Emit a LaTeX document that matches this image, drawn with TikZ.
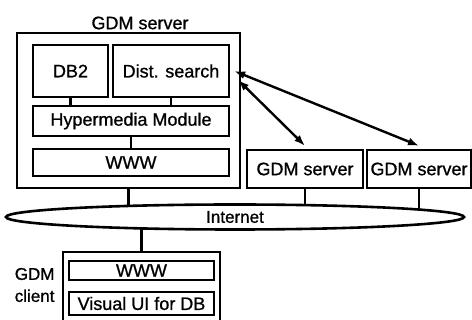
\documentclass[tikz,border=0pt]{standalone}
\usepackage{fontspec}
\setmainfont{Liberation Sans}
\newfontfamily\heavyfont[FakeBold=0.9]{Liberation Sans}
\usetikzlibrary{shapes.geometric,arrows.meta,backgrounds}

\newcommand{\boxfont}{\heavyfont\fontsize{18}{21}\selectfont}

\tikzset{
	modbox/.style={draw,line width=2.4pt,inner sep=0pt,font=\boxfont},
	hostbox/.style={draw,line width=2.6pt,inner sep=0pt},
	net/.style={draw,ellipse,line width=2.6pt,fill=white,inner sep=0pt,font=\heavyfont\fontsize{17}{20}\selectfont},
	wire/.style={line width=2.2pt},
	link/.style={line width=2.4pt,{Latex[length=11pt,width=8pt]}-{Latex[length=11pt,width=8pt]}}
}

\begin{document}
\begin{tikzpicture}[x=1pt,y=-1pt]
		\clip (0,0) rectangle (472,320);

		% server with its modules
		\node[font=\boxfont] (srvname) at (140,23) {GDM server};
		\node[hostbox,minimum width=223pt,minimum height=155pt] (srv) at (128.5,110.5) {};
		\node[modbox,minimum width=75pt,minimum height=52pt] (db2) at (70.5,71) {DB2};
		\node[modbox,minimum width=116pt,minimum height=52pt] (dist) at (171,71) {Dist. search};
		\node[modbox,minimum width=196pt,minimum height=30pt] (hyper) at (131,121) {Hypermedia Module};
		\node[modbox,minimum width=196pt,minimum height=27pt] (www) at (131,162.5) {WWW};
		\draw[wire] (db2.south) -- (db2.south |- hyper.north);
		\draw[wire] (dist.south) -- (dist.south |- hyper.north);
		\draw[wire] (hyper.south) -- (www.north);

		% other servers
		\node[modbox,minimum width=116pt,minimum height=38pt] (rsrv1) at (305,169) {GDM server};
		\node[modbox,minimum width=104pt,minimum height=38pt] (rsrv2) at (419,169) {GDM server};

		% net
		\node[net,minimum width=458pt,minimum height=25pt] (internet) at (235,217) {Internet};

		% client
		\node[hostbox,minimum width=157pt,minimum height=72pt] (client) at (141.5,288) {};
		\node[modbox,minimum width=145pt,minimum height=19pt] (cwww) at (141.5,270.5) {WWW};
		\node[modbox,minimum width=145pt,minimum height=23pt] (vui) at (141.5,303.5) {Visual UI for DB};
		\node[font=\heavyfont\fontsize{17}{22}\selectfont,align=right,anchor=east] (clientname) at (58,285) {GDM\\client};

		% drops to the net, hidden behind its fill
		\begin{pgfonlayer}{background}
			\fill[white] (0,0) rectangle (472,320);
			\draw[wire] (srv.south) -- (srv.south |- internet.center);
			\draw[wire] (rsrv1.south) -- (rsrv1.south |- internet.center);
			\draw[wire] (rsrv2.south) -- (rsrv2.south |- internet.center);
			\draw[wire] (client.north) -- (client.north |- internet.center);
		\end{pgfonlayer}

		\draw[link] ([xshift=4pt]dist.east) -- ([yshift=3pt]rsrv2.north);
		\draw[link] ([xshift=8pt,yshift=-9pt]dist.east) -- ([yshift=3pt]rsrv1.north);
\end{tikzpicture}
\end{document}
